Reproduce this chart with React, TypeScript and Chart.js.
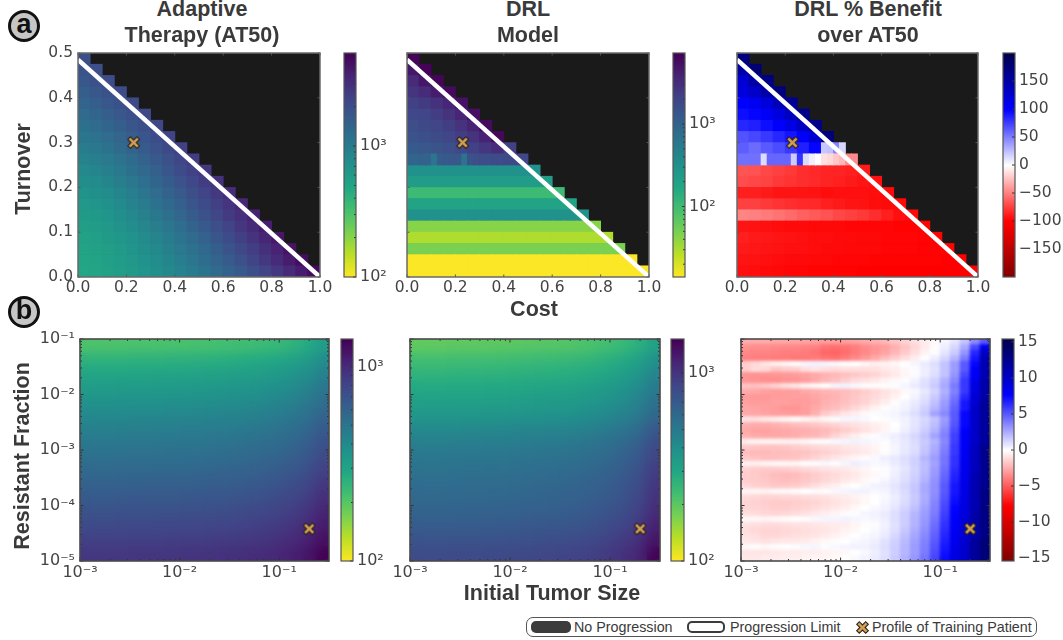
import React, { useEffect, useRef } from "react";
import { Chart, registerables } from "chart.js";

Chart.register(...registerables);
Chart.defaults.font.family = "'DejaVu Sans'";

const TICK_COLOR = "#444444";
const TEXT_COLOR = "#3a3a3a";
const BOLD = "'Liberation Sans', Arial, sans-serif";

// rows listed from the top of the plot (turnover 0.5) to the bottom (turnover 0)
const AT50_GRID: number[][] = [
  [2000],
  [1900, 2030],
  [1760, 1920, 2060],
  [1600, 1760, 1930, 2090],
  [1450, 1590, 1760, 1940, 2120],
  [1320, 1430, 1590, 1770, 1960, 2170],
  [1200, 1300, 1430, 1600, 1790, 2000, 2240],
  [1090, 1170, 1290, 1440, 1620, 1830, 2060, 2320],
  [990, 1060, 1160, 1300, 1470, 1660, 1890, 2140, 2430],
  [900, 960, 1050, 1170, 1330, 1510, 1720, 1970, 2250, 2580],
  [820, 870, 950, 1060, 1200, 1370, 1570, 1810, 2080, 2390, 2750],
  [750, 790, 860, 960, 1085, 1240, 1430, 1650, 1900, 2200, 2530, 2900],
  [690, 725, 785, 870, 980, 1115, 1280, 1480, 1720, 2000, 2320, 2680, 3100],
  [640, 670, 720, 795, 890, 1010, 1160, 1340, 1560, 1810, 2100, 2450, 2850, 3300],
  [600, 625, 672, 735, 820, 925, 1060, 1220, 1420, 1650, 1920, 2240, 2620, 3030, 3500],
  [570, 592, 632, 690, 760, 850, 960, 1100, 1270, 1480, 1720, 2000, 2340, 2730, 3180, 3720],
  [545, 565, 600, 650, 710, 790, 880, 1000, 1140, 1320, 1530, 1790, 2100, 2460, 2880, 3380, 3950],
  [525, 542, 572, 615, 670, 735, 815, 915, 1040, 1190, 1370, 1590, 1850, 2170, 2550, 3000, 3500, 4200],
  [510, 525, 552, 590, 640, 700, 770, 860, 970, 1100, 1260, 1450, 1680, 1960, 2300, 2720, 3200, 3800, 4500],
  [503, 518, 543, 576, 618, 670, 731, 807, 897, 1007, 1138, 1294, 1482, 1706, 1981, 2312, 2716, 3214, 3819, 4560],
];

const DRL_GRID: number[][] = [
  [6800],
  [5000, 7000],
  [3400, 5000, 6600],
  [2800, 3400, 4500, 6200],
  [2200, 2500, 3000, 3800, 5400],
  [1900, 2000, 2400, 2900, 3800, 5600],
  [1650, 1800, 2000, 2350, 2900, 3900, 6000],
  [1500, 1600, 1750, 2000, 2350, 2900, 4000, 6400],
  [1250, 1350, 1450, 1600, 1850, 2200, 2700, 3300, 2200],
  [950, 950, 1000, 1000, 640, 1200, 1250, 1300, 1350, 700, 1500, 1650, 1700, 1700, 1750, 1750, 1800, 1800, 1850, 1850],
  [320, 320, 320, 320, 320, 320, 320, 320, 320, 320, 320],
  [234, 234, 234, 234, 234, 234, 234, 234, 234, 234, 234, 234],
  [104, 104, 104, 104, 104, 104, 104, 104, 104, 104, 104, 104, 104],
  [195, 195, 195, 195, 195, 195, 195, 195, 195, 195, 195, 195, 195, 195],
  [320, 320, 320, 320, 320, 320, 320, 320, 320, 320, 320, 320, 320, 320, 320],
  [43, 43, 43, 43, 43, 43, 43, 43, 43, 43, 43, 43, 43, 43, 43, 43],
  [30, 30, 30, 30, 30, 30, 30, 30, 30, 30, 30, 30, 30, 30, 30, 30, 30],
  [49, 49, 49, 49, 49, 49, 49, 49, 49, 49, 49, 49, 49, 49, 49, 49, 49, 49],
  [14.3, 14.3, 14.3, 14.3, 14.3, 14.3, 14.3, 14.3, 14.3, 14.3, 14.3, 14.3, 14.3, 14.3, 14.3, 14.3, 14.3, 14.3, 14.3],
  [14.3, 14.3, 14.3, 14.3, 14.3, 14.3, 14.3, 14.3, 14.3, 14.3, 14.3, 14.3, 14.3, 14.3, 14.3, 14.3, 14.3, 14.3, 14.3, 14.3],
];

const BENEFIT_GRID: number[][] = [
  [172],
  [150, 178],
  [125, 150, 168],
  [118, 130, 150, 172],
  [100, 108, 120, 140, 160],
  [95, 98, 105, 118, 135, 165],
  [85, 88, 95, 102, 115, 135, 165],
  [68, 72, 78, 85, 92, 102, 125, 172],
  [63, 63, 58, 58, 65, 65, 70, 70, 78, 78, 88, 88, 98, 98, 22, 24, 48, 16],
  [56, 56, 56, 56, 14, 60, 60, 60, 60, 20, 80, 14, 6, 0, -12, -15, -22, -28, -45, -45],
  [-67, -68, -72, -75, -78, -82, -84, -86, -86, -88, -90],
  [-70, -72, -74, -78, -80, -82, -84, -86, -88, -90, -92, -94],
  [-88, -88, -90, -92, -92, -92, -93, -95, -94, -94, -94, -95, -97],
  [-75, -75, -78, -80, -82, -84, -84, -88, -90, -92, -93, -95, -96, -97],
  [-48, -50, -52, -55, -58, -62, -65, -68, -72, -75, -78, -82, -88, -94, -97],
  [-92, -93, -94, -95, -96, -96, -97, -97, -97, -98, -98, -98, -98, -99, -99, -99],
  [-88, -90, -91, -92, -93, -94, -95, -95, -96, -96, -97, -97, -98, -98, -98, -99, -99],
  [-90, -91, -92, -93, -94, -94, -95, -96, -96, -97, -97, -97, -98, -98, -98, -99, -99, -99],
  [-92, -93, -94, -95, -96, -96, -97, -97, -98, -98, -98, -99, -99, -99, -99, -99, -99, -100, -100],
  [-94, -95, -96, -97, -98, -98, -99, -99, -99, -99, -100, -100, -100, -100, -100, -100, -100, -100, -100, -100],
];

// rows from resistant fraction 1e-1 down to 1e-5, columns from tumor size 1e-3 to 10^-0.5
const AT50_SIZE_GRID: number[][] = [
  [210, 210, 210, 211, 212, 212, 213, 214, 215, 216, 218, 221, 223, 227, 231, 237, 246, 260, 282, 325],
  [258, 258, 258, 259, 261, 261, 262, 263, 264, 266, 268, 271, 273, 279, 284, 292, 302, 317, 341, 390],
  [295, 295, 295, 296, 298, 298, 299, 301, 302, 304, 307, 310, 313, 319, 325, 333, 345, 363, 389, 445],
  [330, 330, 330, 332, 333, 333, 335, 337, 338, 340, 343, 347, 350, 356, 363, 373, 386, 406, 436, 495],
  [365, 365, 365, 367, 369, 369, 370, 372, 374, 376, 380, 383, 387, 394, 402, 412, 427, 449, 482, 545],
  [405, 405, 405, 407, 409, 409, 411, 413, 415, 417, 421, 425, 429, 437, 446, 458, 474, 498, 535, 600],
  [447, 447, 447, 449, 451, 451, 454, 456, 458, 460, 465, 469, 474, 483, 492, 505, 523, 550, 590, 662],
  [487, 487, 487, 489, 492, 492, 494, 497, 499, 502, 506, 511, 516, 526, 536, 550, 570, 599, 643, 720],
  [525, 525, 525, 528, 530, 530, 533, 536, 538, 541, 546, 551, 557, 567, 578, 593, 614, 646, 693, 777],
  [568, 568, 568, 571, 574, 574, 577, 579, 582, 585, 591, 596, 602, 613, 625, 642, 665, 699, 750, 840],
  [615, 615, 615, 618, 621, 621, 624, 627, 630, 633, 640, 646, 652, 664, 677, 695, 720, 756, 812, 910],
  [665, 665, 665, 668, 672, 672, 675, 678, 682, 685, 692, 698, 705, 718, 732, 751, 778, 818, 878, 985],
  [718, 718, 718, 722, 725, 725, 729, 732, 736, 740, 747, 754, 761, 775, 790, 811, 840, 883, 948, 1063],
  [775, 775, 775, 779, 783, 783, 787, 791, 794, 798, 806, 814, 822, 837, 853, 876, 907, 953, 1023, 1147],
  [838, 838, 838, 842, 846, 846, 851, 855, 859, 863, 872, 880, 888, 905, 922, 947, 980, 1031, 1106, 1240],
  [910, 910, 910, 915, 919, 919, 924, 928, 933, 937, 946, 956, 965, 983, 1001, 1028, 1065, 1119, 1201, 1380],
];

const DRL_SIZE_GRID: number[][] = [
  [195, 195, 195, 196, 197, 197, 198, 199, 201, 203, 205, 207, 209, 213, 218, 226, 238, 254, 277, 322],
  [232, 232, 232, 233, 234, 234, 235, 237, 239, 241, 244, 246, 248, 253, 260, 269, 283, 302, 329, 390],
  [262, 262, 262, 263, 265, 265, 266, 267, 270, 272, 275, 278, 280, 286, 293, 304, 320, 341, 372, 445],
  [295, 295, 295, 296, 298, 298, 299, 301, 304, 307, 310, 313, 316, 322, 330, 342, 360, 384, 419, 500],
  [325, 325, 325, 327, 328, 328, 330, 332, 335, 338, 341, 345, 348, 354, 364, 377, 397, 423, 462, 552],
  [362, 362, 362, 364, 366, 366, 367, 369, 373, 376, 380, 384, 387, 395, 405, 420, 442, 471, 514, 615],
  [420, 420, 420, 422, 424, 424, 426, 428, 433, 437, 441, 445, 449, 458, 470, 487, 512, 546, 596, 714],
  [475, 475, 475, 477, 480, 480, 482, 485, 489, 494, 499, 504, 508, 518, 532, 551, 580, 618, 675, 808],
  [515, 515, 515, 518, 520, 520, 523, 525, 530, 536, 541, 546, 551, 561, 577, 597, 628, 670, 731, 875],
  [548, 548, 548, 551, 553, 553, 556, 559, 564, 570, 575, 581, 586, 597, 614, 636, 669, 712, 778, 931],
  [580, 580, 580, 583, 586, 586, 589, 592, 597, 603, 609, 615, 621, 632, 650, 673, 708, 754, 824, 985],
  [605, 605, 605, 608, 611, 611, 614, 617, 623, 629, 635, 641, 647, 659, 678, 702, 738, 787, 859, 1028],
  [640, 640, 640, 643, 646, 646, 650, 653, 659, 666, 672, 678, 685, 698, 717, 742, 781, 832, 909, 1090],
  [690, 690, 690, 693, 697, 697, 700, 704, 711, 718, 725, 731, 738, 752, 773, 800, 842, 897, 980, 1180],
  [750, 750, 750, 754, 758, 758, 761, 765, 773, 780, 788, 795, 803, 818, 840, 870, 915, 975, 1065, 1300],
  [815, 815, 815, 819, 823, 823, 827, 831, 839, 848, 856, 864, 872, 888, 913, 945, 994, 1060, 1157, 1500],
];

const BENEFIT_SIZE_GRID: number[][] = [
  [-2.5, -2.6, -2.6, -2.7, -2.7, -2.8, -2.8, -2.9, -3, -3, -2.9, -2.8, -2.6, -2.4, -2.2, -1.8, -1.4, -1, -0.6, -0.2, 0.3, 0.8, 1.8, 3.5, 5],
  [-3.3, -3.4, -3.4, -3.5, -3.6, -3.6, -3.7, -3.8, -4.2, -4.3, -4.2, -3.9, -3.5, -3.2, -2.9, -2.4, -1.8, -1.2, -0.6, -0.1, 0.5, 1.2, 2.6, 5.5, 8.5],
  [-3.6, -3.7, -3.7, -3.8, -3.9, -3.9, -4, -4.2, -4.6, -4.7, -4.4, -4, -3.6, -3.2, -2.8, -2.2, -1.6, -1, -0.4, 0.1, 0.8, 1.6, 3.2, 6.5, 10],
  [-3.8, -3.9, -3.9, -4, -4, -4.1, -4.1, -4, -4.2, -4.3, -4, -3.6, -3.1, -2.6, -2, -1.5, -1, -0.5, 0, 0.5, 1.2, 2.2, 4, 7, 11],
  [-1.5, -1.2, -0.8, -0.5, -0.3, -0.1, 0.3, 0.4, 0.3, 0.2, 0.1, 0, -0.3, -0.5, -0.4, -0.2, 0, 0.3, 0.6, 1, 1.8, 3, 5, 7.5, 11],
  [-1.5, -1, -1.2, -1.8, -1.6, -1.5, -1, -0.8, -1, -1.1, -1, -1, -1, -0.9, -0.7, -0.5, -0.2, 0.1, 0.5, 0.9, 1.8, 3, 5, 8, 11],
  [-3.2, -3.3, -3.3, -3.2, -3.1, -3, -2.8, -2.6, -2.3, -2.1, -1.9, -1.7, -1.5, -1.3, -1, -0.7, -0.3, 0.1, 0.5, 1, 1.8, 3.2, 5.5, 8, 11],
  [-3.2, -3.3, -3.4, -3.4, -3.3, -3.2, -3, -2.6, -2.2, -1.9, -1.5, -1.1, -0.9, -0.7, -0.4, -0.2, 0.1, 0.4, 0.9, 1.4, 2.4, 3.6, 6, 8.5, 11.5],
  [-1.8, -1.9, -1.7, -1.4, -1, -0.8, -0.4, -0.2, 0, 0.3, 0.4, 0.2, 0.1, -0.1, -0.1, 0.1, 0.3, 0.6, 1, 1.6, 2.6, 4, 6, 9, 11.5],
  [-2.6, -2.7, -2.9, -3, -3, -2.9, -2.7, -2.5, -2.3, -2.2, -2, -1.8, -1.5, -1.2, -0.9, -0.6, -0.2, 0.2, 0.7, 1.3, 2.4, 3.8, 6, 9, 11.5],
  [-3, -3.1, -3.1, -3, -3, -2.9, -2.9, -2.7, -2.5, -2.3, -2, -1.7, -1.4, -1.1, -0.8, -0.4, 0, 0.4, 0.9, 1.6, 2.7, 4.2, 6.5, 9.5, 11.5],
  [-2.9, -3, -3, -2.9, -2.9, -3, -3, -2.8, -2.4, -2.2, -1.9, -1.6, -1.3, -0.9, -0.5, -0.1, 0.3, 0.6, 1.1, 1.9, 3, 4.5, 7, 9.5, 12],
  [-2.7, -2.8, -2.9, -3, -3.2, -3.2, -3, -2.6, -2.2, -2, -1.6, -1.2, -0.8, -0.4, -0.1, 0.2, 0.4, 0.8, 1.4, 2.2, 3.2, 4.8, 7, 10, 12],
  [-2.6, -2.7, -2.8, -3, -3, -3.1, -3, -2.4, -1.6, -1.2, -0.8, -0.5, -0.2, 0.1, 0.2, 0.3, 0.6, 1, 1.6, 2.8, 3.6, 5, 7.5, 10, 12],
  [-0.8, -0.9, -0.7, -0.5, -0.3, -0.1, -0.3, -0.5, -0.2, 0.1, 0.3, 0.3, 0.2, 0, -0.1, 0.2, 0.4, 0.8, 1.2, 1.8, 3, 5, 7.5, 10, 12],
  [-2.4, -2.5, -2.5, -2.4, -2.2, -2, -1.9, -1.7, -1.5, -1.3, -1.1, -0.9, -0.7, -0.5, -0.3, 0, 0.4, 0.8, 1.3, 2, 3.2, 5.2, 7.5, 10, 12],
  [-2.6, -2.8, -2.8, -2.7, -2.6, -2.5, -2.4, -2.3, -2.1, -1.8, -1.5, -1.2, -0.9, -0.6, -0.3, 0.1, 0.5, 0.9, 1.5, 2.3, 3.6, 5.5, 7.8, 10, 12],
  [-2.4, -2.6, -2.7, -2.7, -2.6, -2.5, -2.3, -2.2, -1.9, -1.3, -0.9, -0.5, -0.2, 0.1, 0.3, 0.5, 0.8, 1.2, 1.8, 2.8, 3.8, 5.8, 8, 10, 12],
  [-0.5, -0.4, -0.3, -0.3, -0.4, -0.4, -0.3, -0.1, 0.1, 0.2, 0.3, 0.4, 0.3, 0.2, 0.1, 0.4, 0.7, 1.1, 1.6, 2.3, 3.6, 5.8, 8, 10, 12],
  [-1.6, -1.7, -1.8, -1.8, -1.7, -1.5, -1.4, -1.2, -1.1, -1, -0.8, -0.7, -0.5, -0.3, -0.1, 0.3, 0.7, 1, 1.7, 2.5, 3.8, 6, 8, 10.5, 12.5],
  [-2, -2.1, -2.1, -2, -2, -1.9, -1.8, -1.6, -1.4, -1.2, -1, -0.8, -0.6, -0.4, -0.1, 0.3, 0.7, 1.1, 1.8, 2.7, 4, 6, 8.2, 10.5, 12.5],
  [-1.7, -1.8, -2, -2, -1.9, -1.8, -1.6, -1.3, -1, -0.8, -0.5, -0.3, -0.1, 0.2, 0.5, 0.7, 1, 1.4, 2.2, 3, 4.2, 6.2, 8.2, 10.5, 12.5],
  [-0.4, -0.5, -0.3, -0.2, -0.2, -0.3, -0.1, 0.1, 0.2, 0.1, 0.3, 0.5, 0.4, 0.2, 0.3, 0.6, 0.9, 1.4, 2, 2.8, 4.2, 6.2, 8.4, 10.5, 12.5],
  [-1.4, -1.5, -1.6, -1.6, -1.5, -1.4, -1.2, -1.1, -0.9, -0.8, -0.7, -0.5, -0.3, -0.1, 0.1, 0.4, 0.8, 1.3, 2, 3, 4.4, 6.4, 8.4, 10.5, 12.5],
  [-1.5, -1.6, -1.8, -2, -2.1, -2, -1.8, -1.5, -1.3, -1.1, -0.9, -0.7, -0.4, -0.2, 0.1, 0.5, 0.9, 1.4, 2.1, 3.1, 4.6, 6.6, 8.6, 11, 12.5],
  [-1.5, -1.6, -1.7, -1.9, -2, -1.9, -1.7, -1.5, -1.2, -1, -0.7, -0.5, -0.2, 0.1, 0.3, 0.6, 1, 1.5, 2.3, 3.3, 4.8, 6.8, 8.6, 11, 12.5],
  [-1.2, -1.4, -1.5, -1.7, -1.6, -1.5, -1.3, -1, -0.7, -0.5, -0.2, 0, 0.2, 0.4, 0.5, 0.8, 1.2, 1.7, 2.6, 3.4, 5, 7, 8.8, 11, 12.5],
  [-0.3, -0.3, -0.4, -0.2, -0.2, -0.1, 0, 0.1, -0.1, 0.2, 0.3, 0.4, 0.4, 0.2, 0.3, 0.7, 1.1, 1.7, 2.6, 3.4, 5, 7, 8.8, 11, 13],
  [-1.1, -1.2, -1.3, -1.3, -1.2, -1.2, -1.1, -1, -0.9, -0.7, -0.6, -0.4, -0.2, 0, 0.2, 0.5, 1, 1.6, 2.5, 3.5, 5.2, 7.2, 9, 11, 13],
  [-1.3, -1.4, -1.5, -1.6, -1.6, -1.5, -1.4, -1.3, -1.1, -0.9, -0.7, -0.5, -0.2, 0, 0.3, 0.6, 1.1, 1.7, 2.6, 3.7, 5.4, 7.4, 9, 11, 13],
  [-1.2, -1.3, -1.4, -1.5, -1.5, -1.4, -1.3, -1.1, -0.9, -0.7, -0.5, -0.2, 0, 0.2, 0.4, 0.8, 1.3, 1.9, 2.8, 3.8, 5.6, 7.6, 9.2, 11, 13],
  [-1, -1.1, -1.2, -1.3, -1.2, -1.1, -0.9, -0.7, -0.5, -0.3, -0.1, 0.1, 0.3, 0.4, 0.6, 1, 1.5, 2.2, 3, 4, 5.8, 7.8, 9.2, 11.5, 13],
  [-0.2, -0.2, -0.3, -0.2, -0.1, 0, 0.1, 0.2, 0.3, 0.3, 0.4, 0.3, 0.2, 0.3, 0.5, 1, 1.5, 2.3, 3.1, 4.2, 6, 8, 9.4, 11.5, 13],
  [-0.9, -1, -1.1, -1.1, -1, -0.9, -0.9, -0.8, -0.7, -0.6, -0.5, -0.3, -0.1, 0.1, 0.4, 0.9, 1.5, 2.3, 3.2, 4.4, 6.2, 8, 9.4, 11.5, 13],
  [-1, -1.2, -1.3, -1.3, -1.2, -1.1, -1, -0.9, -0.8, -0.6, -0.4, -0.2, 0, 0.2, 0.5, 1, 1.7, 2.5, 3.4, 4.6, 6.4, 8.2, 9.6, 11.5, 13],
  [-0.9, -1, -1.2, -1.2, -1.1, -1, -0.9, -0.8, -0.6, -0.4, -0.2, 0, 0.2, 0.3, 0.6, 1.2, 1.9, 2.7, 3.6, 4.8, 6.6, 8.4, 9.6, 11.5, 13],
  [-0.7, -0.8, -0.9, -0.8, -0.7, -0.7, -0.6, -0.4, -0.2, -0.1, 0, 0.2, 0.3, 0.5, 0.9, 1.4, 2.1, 2.9, 3.8, 5, 6.8, 8.4, 9.8, 12, 13.5],
  [-0.2, -0.1, -0.2, -0.1, 0, 0.1, 0.2, 0.3, 0.1, 0.2, 0.3, 0.4, 0.4, 0.6, 1, 1.5, 2.2, 3, 3.9, 5.2, 7, 8.6, 9.8, 12, 13.5],
  [-0.8, -0.8, -0.8, -0.7, -0.6, -0.6, -0.5, -0.5, -0.4, -0.3, -0.2, 0, 0.2, 0.5, 0.9, 1.5, 2.2, 3, 4, 5.4, 7.2, 8.8, 10, 12, 13.5],
  [-0.7, -0.7, -0.6, -0.6, -0.5, -0.5, -0.4, -0.3, -0.3, -0.2, 0, 0.2, 0.4, 0.6, 1, 1.6, 2.4, 3.2, 4.2, 5.6, 7.4, 9, 10, 12, 13.5],
];

const LIMIT_LINE = [{ x: 0, y: 0.485 }, { x: 1, y: 0 }];
const PATIENT_COST_TURNOVER = [{ x: 0.23, y: 0.3 }];
const PATIENT_SIZE_FRACTION = [{ x: 0.2, y: 3.8e-5 }];
const COST_TICKS = [0, 0.2, 0.4, 0.6, 0.8, 1];
const TURNOVER_TICKS = [0, 0.1, 0.2, 0.3, 0.4, 0.5];
const BENEFIT_A_TICKS = [-150, -100, -50, 0, 50, 100, 150];
const BENEFIT_B_TICKS = [-15, -10, -5, 0, 5, 10, 15];

const VIRIDIS = [
  [68, 1, 84], [72, 36, 117], [65, 68, 135], [53, 95, 141], [42, 120, 142], [33, 145, 140],
  [34, 168, 132], [68, 191, 112], [122, 209, 81], [189, 223, 38], [253, 231, 37],
];
function ramp(stops: number[][], t: number) {
  const f = Math.max(0, Math.min(1, t)) * (stops.length - 1);
  const i = Math.min(stops.length - 2, Math.floor(f));
  const k = f - i;
  const c = stops[i].map((v, j) => Math.round(v + (stops[i + 1][j] - v) * k));
  return `rgb(${c[0]},${c[1]},${c[2]})`;
}
const SEISMIC_R = [[128, 0, 0], [255, 0, 0], [255, 255, 255], [0, 0, 255], [0, 0, 76]];
const viridisLog = (min: number, max: number) => (v: number) =>
  ramp(VIRIDIS, 1 - (Math.log10(v) - Math.log10(min)) / (Math.log10(max) - Math.log10(min)));
const seismic = (lim: number) => (v: number) => ramp(SEISMIC_R, (v + lim) / (2 * lim));

const SUP: Record<string, string> = { "-": "⁻", "0": "⁰", "1": "¹", "2": "²", "3": "³", "4": "⁴", "5": "⁵" };
function decadeLabel(v: number) {
  const e = Math.log10(v);
  if (Math.abs(e - Math.round(e)) > 1e-6) return "";
  return "10" + String(Math.round(e)).split("").map((c) => SUP[c]).join("");
}
function logTicks(min: number, max: number) {
  const out: { value: number }[] = [];
  for (let e = Math.floor(Math.log10(min)); e <= Math.ceil(Math.log10(max)); e++) {
    for (let m = 1; m < 10; m++) {
      const value = Number(`${m}e${e}`);
      if (value >= min * 0.9999 && value <= max * 1.0001) out.push({ value });
    }
  }
  return out;
}

function patientCanvas() {
  const c = document.createElement("canvas");
  c.width = 17;
  c.height = 17;
  const g = c.getContext("2d")!;
  g.translate(8.5, 8.5);
  const s = 5.8;
  const a = 2.6;
  const pts = [[-s, -s + a], [-s + a, -s], [0, -a], [s - a, -s], [s, -s + a], [a, 0], [s, s - a], [s - a, s], [0, a], [-s + a, s], [-s, s - a], [-a, 0]];
  g.beginPath();
  pts.forEach((p, i) => (i ? g.lineTo(p[0], p[1]) : g.moveTo(p[0], p[1])));
  g.closePath();
  g.fillStyle = "#d19f55";
  g.fill();
  g.lineWidth = 1.1;
  g.strokeStyle = "#2a2218";
  g.stroke();
  return c;
}

function framePlugin(opts: { bg?: string; border: string; lineWidth: number; tick: string; colorbar?: boolean; maj: number; min: number; blur?: number }) {
  return {
    id: "frame",
    beforeDatasetsDraw(chart: any) {
      if (!opts.bg) return;
      const { left, top, width, height } = chart.chartArea;
      chart.ctx.fillStyle = opts.bg;
      chart.ctx.fillRect(left, top, width, height);
    },
    afterDatasetDraw(chart: any, args: any) {
      if (!opts.blur || chart.data.datasets[args.index].stack !== "c") return;
      const { ctx } = chart;
      const { left, top, width, height } = chart.chartArea;
      ctx.save();
      ctx.beginPath();
      ctx.rect(left, top, width, height);
      ctx.clip();
      ctx.filter = `blur(${opts.blur}px)`;
      ctx.drawImage(chart.canvas, 0, 0);
      ctx.restore();
    },
    afterDatasetsDraw(chart: any) {
      const { ctx } = chart;
      const { left, right, top, bottom } = chart.chartArea;
      ctx.save();
      ctx.strokeStyle = opts.tick;
      ctx.lineWidth = 1;
      const isMajor = (scale: any, v: number) => {
        if (scale.type !== "logarithmic") return true;
        const e = Math.log10(v);
        return Math.abs(e - Math.round(e)) < 1e-6;
      };
      for (const id of Object.keys(chart.scales)) {
        const scale = chart.scales[id];
        if (!scale.options.display) continue;
        for (const t of scale.ticks) {
          const p = scale.getPixelForValue(t.value);
          const len = isMajor(scale, t.value) ? opts.maj : opts.min;
          ctx.beginPath();
          if (scale.axis === "x") {
            ctx.moveTo(p, bottom); ctx.lineTo(p, bottom - len);
            ctx.moveTo(p, top); ctx.lineTo(p, top + len);
          } else {
            ctx.moveTo(right, p); ctx.lineTo(right - len, p);
            if (!opts.colorbar) { ctx.moveTo(left, p); ctx.lineTo(left + len, p); }
          }
          ctx.stroke();
        }
      }
      ctx.strokeStyle = opts.border;
      ctx.lineWidth = opts.lineWidth;
      ctx.strokeRect(left, top, right - left, bottom - top);
      ctx.restore();
    },
  };
}

function fixBox(size: number, key: "width" | "height") {
  return (scale: any) => {
    scale[key] = size;
    scale.paddingLeft = scale.paddingRight = scale.paddingTop = scale.paddingBottom = 0;
  };
}

function turnoverCells(grid: number[][], color: (v: number) => string) {
  const full: any = { data: [], backgroundColor: [] };
  const half: any = { data: [], backgroundColor: [] };
  const rowH = 0.5 / grid.length;
  grid.forEach((row, r) => {
    const isHalf = row.length === 2 * (r + 1);
    const w = isHalf ? 0.025 : 0.05;
    const target = isHalf ? half : full;
    row.forEach((v, c) => {
      target.data.push({ x: (c + 0.5) * w, y: [0.5 - (r + 1) * rowH, 0.5 - r * rowH] });
      target.backgroundColor.push(color(v));
    });
  });
  return [
    { ...full, barThickness: 12.3, stack: "c", order: 5, borderWidth: 0 },
    { ...half, barThickness: 6.2, stack: "c", order: 4, borderWidth: 0 },
  ];
}

function sizeCells(grid: number[][], color: (v: number) => string, thick: number) {
  const data: any[] = [];
  const backgroundColor: string[] = [];
  const rowH = 4 / grid.length;
  const colW = 2.5 / grid[0].length;
  grid.forEach((row, r) => {
    row.forEach((v, c) => {
      data.push({
        x: Math.pow(10, -3 + (c + 0.5) * colW),
        y: [Math.pow(10, -1 - (r + 1) * rowH), Math.pow(10, -1 - r * rowH)],
      });
      backgroundColor.push(color(v));
    });
  });
  return [{ data, backgroundColor, barThickness: thick, stack: "c", order: 5, borderWidth: 0 }];
}

type Box = { l: number; t: number; r: number; b: number };

function heatConfig(box: Box, kind: "a" | "b", yLabels: boolean, cells: any[], blur?: number) {
  const marker = patientCanvas();
  const mL = 62, mR = 20, mT = 10, mB = 30;
  const extra: any[] = [];
  if (kind === "a") {
    extra.push({ type: "line", data: LIMIT_LINE, borderColor: "#ffffff", borderWidth: 4.4, pointRadius: 0, order: 2 });
  }
  extra.push({
    type: "line",
    data: kind === "a" ? PATIENT_COST_TURNOVER : PATIENT_SIZE_FRACTION,
    showLine: false,
    pointStyle: marker,
    pointRadius: 8,
    clip: false,
    order: 1,
  });
  const tickFont = { size: kind === "a" ? 15.5 : 16 };
  const xScale: any =
    kind === "a"
      ? {
          type: "linear", min: 0, max: 1, offset: false,
          afterBuildTicks: (s: any) => { s.ticks = COST_TICKS.map((value) => ({ value })); },
          ticks: { callback: (v: any) => Number(v).toFixed(1) },
        }
      : {
          type: "logarithmic", min: 1e-3, max: Math.pow(10, -0.5), offset: false,
          afterBuildTicks: (s: any) => { s.ticks = logTicks(1e-3, Math.pow(10, -0.5)); },
          ticks: { callback: (v: any) => decadeLabel(Number(v)) },
        };
  const yScale: any =
    kind === "a"
      ? {
          type: "linear", min: 0, max: 0.5, stacked: false,
          afterBuildTicks: (s: any) => { s.ticks = TURNOVER_TICKS.map((value) => ({ value })); },
          ticks: { callback: (v: any) => (yLabels ? Number(v).toFixed(1) : "") },
        }
      : {
          type: "logarithmic", min: 1e-5, max: 1e-1, stacked: false,
          afterBuildTicks: (s: any) => { s.ticks = logTicks(1e-5, 1e-1); },
          ticks: { callback: (v: any) => (yLabels ? decadeLabel(Number(v)) : "") },
        };
  for (const [s, size, key, pad] of [[xScale, mB, "height", 2], [yScale, mL, "width", 5]] as any[]) {
    s.afterFit = fixBox(size, key);
    s.grid = { display: false, drawTicks: false };
    s.border = { display: false };
    s.ticks = { ...s.ticks, font: tickFont, color: TICK_COLOR, autoSkip: false, maxRotation: 0, minRotation: 0, padding: pad };
  }
  const frame =
    kind === "a"
      ? framePlugin({ bg: "#1a1a1a", border: "#6a6a6a", lineWidth: 1.5, tick: "#555555", maj: 2.5, min: 1.5 })
      : framePlugin({ border: "#4a4a4a", lineWidth: 1.6, tick: "#333333", maj: 3.5, min: 2, blur });
  return {
    width: mL + (box.r - box.l) + mR,
    height: mT + (box.b - box.t) + mB,
    left: box.l - mL,
    top: box.t - mT,
    config: {
      type: "bar",
      data: { datasets: [...extra, ...cells] },
      options: {
        animation: false,
        responsive: false,
        devicePixelRatio: 1,
        events: [],
        layout: { autoPadding: false, padding: { top: mT, right: mR, left: 0, bottom: 0 } },
        scales: { x: xScale, y: yScale },
        plugins: { legend: { display: false }, tooltip: { enabled: false }, title: { display: false } },
      },
      plugins: [frame],
    },
  };
}

function colorbarConfig(box: Box, scaleType: "log" | "lin", min: number, max: number, color: (v: number) => string, ticksList?: number[]) {
  const mR = 52, mV = 10, mL = 2;
  const N = Math.round(box.b - box.t);
  const data: any[] = [];
  const backgroundColor: string[] = [];
  const isLog = scaleType === "log";
  for (let i = 0; i < N; i++) {
    const a = i / N, b = (i + 1) / N;
    const lo = isLog ? Math.pow(10, Math.log10(min) + a * (Math.log10(max) - Math.log10(min))) : min + a * (max - min);
    const hi = isLog ? Math.pow(10, Math.log10(min) + b * (Math.log10(max) - Math.log10(min))) : min + b * (max - min);
    data.push({ x: 0.5, y: [lo, hi] });
    backgroundColor.push(color(isLog ? Math.sqrt(lo * hi) : (lo + hi) / 2));
  }
  const y: any = {
    type: isLog ? "logarithmic" : "linear",
    position: "right",
    min, max, stacked: false,
    afterFit: fixBox(mR, "width"),
    afterBuildTicks: (s: any) => {
      s.ticks = isLog ? logTicks(min, max) : (ticksList as number[]).map((value) => ({ value }));
    },
    grid: { display: false, drawTicks: false },
    border: { display: false },
    ticks: {
      font: { size: isLog ? 16 : 15.5 }, color: TICK_COLOR, autoSkip: false, maxRotation: 0, minRotation: 0, padding: 4,
      callback: (v: any) => (isLog ? decadeLabel(Number(v)) : String(v).replace("-", "−")),
    },
  };
  return {
    width: mL + (box.r - box.l) + mR,
    height: box.b - box.t + 2 * mV,
    left: box.l - mL,
    top: box.t - mV,
    config: {
      type: "bar",
      data: {
        datasets: [{ data, backgroundColor, barThickness: box.r - box.l + 2, stack: "c", borderWidth: 0 }],
      },
      options: {
        animation: false,
        responsive: false,
        devicePixelRatio: 1,
        events: [],
        layout: { autoPadding: false, padding: { top: mV, bottom: mV, left: mL, right: 0 } },
        scales: { x: { type: "linear", min: 0, max: 1, display: false, offset: false, afterFit: fixBox(0, "height") }, y },
        plugins: { legend: { display: false }, tooltip: { enabled: false } },
      },
      plugins: [framePlugin({ border: "#555555", lineWidth: 1.2, tick: "#333333", colorbar: true, maj: 3, min: 2 })],
    },
  };
}

function buildAll() {
  const A1: Box = { l: 78, t: 53, r: 320, b: 277 };
  const A2: Box = { l: 407, t: 53, r: 649, b: 277 };
  const A3: Box = { l: 737, t: 53, r: 978, b: 277 };
  const B1: Box = { l: 80, t: 339, r: 329, b: 561 };
  const B2: Box = { l: 410, t: 339, r: 660, b: 561 };
  const B3: Box = { l: 741, t: 339, r: 990, b: 561 };
  const cA1 = viridisLog(100, 5130);
  const cA2 = viridisLog(14, 7250);
  const cA3 = seismic(200);
  const cB1 = viridisLog(100, 1388);
  const cB2 = viridisLog(100, 1517);
  const cB3 = seismic(15.4);
  return [
    heatConfig(A1, "a", true, turnoverCells(AT50_GRID, cA1)),
    heatConfig(A2, "a", false, turnoverCells(DRL_GRID, cA2)),
    heatConfig(A3, "a", false, turnoverCells(BENEFIT_GRID, cA3)),
    heatConfig(B1, "b", true, sizeCells(AT50_SIZE_GRID, cB1, 13), 6),
    heatConfig(B2, "b", false, sizeCells(DRL_SIZE_GRID, cB2, 13), 6),
    heatConfig(B3, "b", false, sizeCells(BENEFIT_SIZE_GRID, cB3, 10.2), 1.6),
    colorbarConfig({ l: 344, t: 53, r: 356, b: 277 }, "log", 100, 5130, cA1),
    colorbarConfig({ l: 673, t: 53, r: 685, b: 277 }, "log", 14, 7250, cA2),
    colorbarConfig({ l: 1003, t: 53, r: 1015, b: 277 }, "lin", -200, 200, cA3, BENEFIT_A_TICKS),
    colorbarConfig({ l: 341, t: 339, r: 353, b: 561 }, "log", 100, 1388, cB1),
    colorbarConfig({ l: 671, t: 339, r: 684, b: 561 }, "log", 100, 1517, cB2),
    colorbarConfig({ l: 1002, t: 339, r: 1014, b: 561 }, "lin", -15.4, 15.4, cB3, BENEFIT_B_TICKS),
  ];
}

function ChartCanvas({ spec }: { spec: any }) {
  const ref = useRef<HTMLCanvasElement>(null);
  useEffect(() => {
    const chart = new Chart(ref.current as HTMLCanvasElement, spec.config);
    return () => chart.destroy();
  }, [spec]);
  return (
    <canvas
      ref={ref}
      width={spec.width}
      height={spec.height}
      style={{ position: "absolute", left: spec.left, top: spec.top, width: spec.width, height: spec.height, pointerEvents: "none" }}
    />
  );
}

function Label({ text, cx, cy, rot, size = 21.5 }: { text: string; cx: number; cy: number; rot?: number; size?: number }) {
  return (
    <div
      style={{
        position: "absolute", left: cx, top: cy, whiteSpace: "nowrap",
        transform: `translate(-50%,-50%) rotate(${rot || 0}deg)`,
        fontFamily: BOLD, fontWeight: 700, fontSize: size, lineHeight: 1, color: TEXT_COLOR,
      }}
    >
      {text}
    </div>
  );
}

function Badge({ text, cx, cy }: { text: string; cx: number; cy: number }) {
  return (
    <div
      style={{
        position: "absolute", left: cx - 16, top: cy - 16, width: 32, height: 32, boxSizing: "border-box",
        borderRadius: "50%", border: "3.2px solid #111", background: "#c6c6c6", color: "#111",
        fontFamily: BOLD, fontWeight: 700, fontSize: 27, lineHeight: "23px", textAlign: "center",
      }}
    >
      {text}
    </div>
  );
}

function Legend() {
  const txt = (text: string, left: number, fs: number) => (
    <div style={{ position: "absolute", left, top: 619, fontFamily: "'Liberation Sans', Arial, sans-serif", fontSize: fs, lineHeight: "16px", color: "#3a3a3a", whiteSpace: "nowrap" }}>
      {text}
    </div>
  );
  return (
    <>
      <div style={{ position: "absolute", left: 526, top: 617, width: 511, height: 20, boxSizing: "border-box", border: "1.2px solid #555", borderRadius: 7, background: "#fff" }} />
      <div style={{ position: "absolute", left: 531, top: 621, width: 40, height: 12, background: "#3c3c3c", borderRadius: 5 }} />
      {txt("No Progression", 574, 14.3)}
      <div style={{ position: "absolute", left: 687, top: 621, width: 38, height: 12, boxSizing: "border-box", background: "#fff", border: "2.4px solid #3c3c3c", borderRadius: 5 }} />
      {txt("Progression Limit", 730, 14.3)}
      <svg width="15" height="15" viewBox="-7.5 -7.5 15 15" style={{ position: "absolute", left: 854.5, top: 619.5 }}>
        <polygon points="-5.8,-3.2 -3.2,-5.8 0,-2.6 3.2,-5.8 5.8,-3.2 2.6,0 5.8,3.2 3.2,5.8 0,2.6 -3.2,5.8 -5.8,3.2 -2.6,0" fill="#d19f55" stroke="#2a2218" strokeWidth="1.1" />
      </svg>
      {txt("Profile of Training Patient", 872, 14.3)}
    </>
  );
}

const SPECS = buildAll();

export default function App() {
  return (
    <div style={{ position: "absolute", left: 0, top: 0, width: 1063, height: 640, overflow: "hidden", background: "#fff" }}>
      {SPECS.map((s, i) => (
        <ChartCanvas key={i} spec={s} />
      ))}
      <Badge text="a" cx={24} cy={26} />
      <Badge text="b" cx={24} cy={312} />
      <Label text="Adaptive" cx={202} cy={10} />
      <Label text="Therapy (AT50)" cx={202} cy={36} />
      <Label text="DRL" cx={528} cy={10} />
      <Label text="Model" cx={528} cy={36} />
      <Label text="DRL % Benefit" cx={868} cy={10} />
      <Label text="over AT50" cx={868} cy={36} />
      <Label text="Turnover" cx={24} cy={169} rot={-90} />
      <Label text="Resistant Fraction" cx={23} cy={456} rot={-90} />
      <Label text="Cost" cx={534} cy={310} />
      <Label text="Initial Tumor Size" cx={552} cy={594} />
      <Legend />
    </div>
  );
}
